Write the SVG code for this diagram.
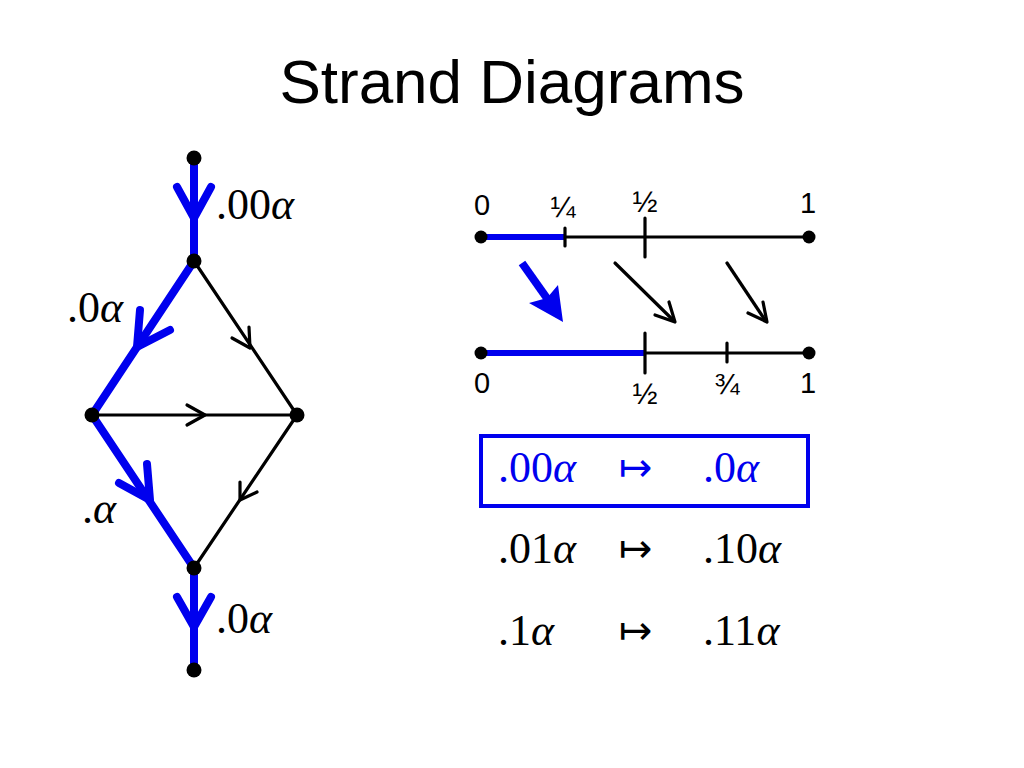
<svg xmlns="http://www.w3.org/2000/svg" width="1024" height="768" viewBox="0 0 1024 768">
<style>
.title{font-family:"Liberation Sans",Arial,sans-serif;font-size:62px;fill:#000}
.m{font-family:"Liberation Serif","DejaVu Serif",serif;font-size:44px;fill:#000}
.mb{font-family:"Liberation Serif","DejaVu Serif",serif;font-size:44px;fill:#0000ee}
.a{font-style:italic}
.to{font-family:"DejaVu Sans",sans-serif;font-size:40px}
.num{font-family:"Liberation Sans",Arial,sans-serif;font-size:29px;fill:#000;text-anchor:middle}
.frac{font-family:"Liberation Sans",Arial,sans-serif;font-size:30px;fill:#000;text-anchor:middle}
.blue{stroke:#0000ee;stroke-width:8;fill:none;stroke-linecap:round;stroke-linejoin:round}
.blk{stroke:#000;stroke-width:3.2;fill:none;stroke-linecap:round;stroke-linejoin:round}
.dot{fill:#000}
</style>
<rect width="1024" height="768" fill="#fff"/>
<text class="title" x="512" y="103" text-anchor="middle">Strand Diagrams</text>

<g id="connectors">
  <line class="blue" x1="194" y1="158" x2="194" y2="261"/>
  <polyline class="blue" points="177,187 194,218 211,187"/>
  <line class="blue" x1="194" y1="261" x2="92" y2="415"/>
  <polyline class="blue" points="140,310 137,347 170,330"/>
  <line class="blk" x1="194" y1="261" x2="297" y2="415"/>
  <polyline class="blk" points="232,338 250,348 249,327"/>
  <line class="blk" x1="92" y1="415" x2="297" y2="415"/>
  <polyline class="blk" points="187,405 205,415 187,425"/>
  <line class="blue" x1="92" y1="415" x2="194" y2="568"/>
  <polyline class="blue" points="147,464 150,500 119,483"/>
  <line class="blk" x1="297" y1="415" x2="194" y2="568"/>
  <polyline class="blk" points="240,482 240,500 257,492"/>
  <line class="blue" x1="194" y1="568" x2="194" y2="670"/>
  <polyline class="blue" points="177,597 194,627 211,597"/>
</g>

<g id="node-top"><circle class="dot" cx="194" cy="158" r="7.5"/></g>
<g id="node-upper"><circle class="dot" cx="194" cy="261" r="7.5"/></g>
<g id="node-left"><circle class="dot" cx="92" cy="415" r="7.5"/></g>
<g id="node-right"><circle class="dot" cx="297" cy="415" r="7.5"/></g>
<g id="node-lower"><circle class="dot" cx="194" cy="568" r="7.5"/></g>
<g id="node-bottom"><circle class="dot" cx="194" cy="670" r="7.5"/></g>

<g id="labels-left">
  <text class="m" x="216" y="219">.00<tspan class="a">α</tspan></text>
  <text class="m" x="67" y="322">.0<tspan class="a">α</tspan></text>
  <text class="m" x="82" y="523">.<tspan class="a">α</tspan></text>
  <text class="m" x="216" y="633">.0<tspan class="a">α</tspan></text>
</g>

<g id="numberline-top">
  <line class="blk" x1="481" y1="237" x2="809" y2="237"/>
  <line x1="481" y1="237" x2="565" y2="237" stroke="#0000ee" stroke-width="6"/>
  <line class="blk" x1="565" y1="228" x2="565" y2="246" stroke-linecap="butt"/>
  <line class="blk" x1="645" y1="218" x2="645" y2="257" stroke-linecap="butt"/>
  <circle class="dot" cx="481" cy="237" r="6.5"/>
  <circle class="dot" cx="809" cy="237" r="6.5"/>
  <text class="num" x="482" y="215">0</text>
  <text class="frac" x="563" y="217">¼</text>
  <text class="frac" x="645" y="212">½</text>
  <text class="num" x="808" y="213">1</text>
</g>

<g id="numberline-bottom">
  <line class="blk" x1="481" y1="353" x2="809" y2="353"/>
  <line x1="481" y1="353" x2="645" y2="353" stroke="#0000ee" stroke-width="6"/>
  <line class="blk" x1="645" y1="333" x2="645" y2="373" stroke-linecap="butt"/>
  <line class="blk" x1="727" y1="343" x2="727" y2="362" stroke-linecap="butt"/>
  <circle class="dot" cx="481" cy="353" r="6.5"/>
  <circle class="dot" cx="809" cy="353" r="6.5"/>
  <text class="num" x="482" y="393">0</text>
  <text class="frac" x="645" y="404">½</text>
  <text class="frac" x="727" y="394">¾</text>
  <text class="num" x="808" y="393">1</text>
</g>

<g id="map-arrows">
  <line x1="522" y1="263" x2="551" y2="304" stroke="#0000ee" stroke-width="8" stroke-linecap="butt"/>
  <polygon points="563,322 529,303 547,298 558,285" fill="#0000ee"/>
  <line class="blk" x1="615" y1="263" x2="673" y2="320"/>
  <polyline class="blk" points="655,315 675,322 669,302"/>
  <line class="blk" x1="727" y1="263" x2="765" y2="320"/>
  <polyline class="blk" points="748,313 767,322 763,302"/>
</g>

<g id="table">
  <rect x="481" y="436" width="327" height="70" fill="none" stroke="#0000ee" stroke-width="4"/>
  <text class="mb" x="498" y="482">.00<tspan class="a">α</tspan></text>
  <text class="mb to" x="619" y="481">↦</text>
  <text class="mb" x="703" y="482">.0<tspan class="a">α</tspan></text>
  <text class="m" x="498" y="563">.01<tspan class="a">α</tspan></text>
  <text class="m to" x="619" y="562">↦</text>
  <text class="m" x="703" y="563">.10<tspan class="a">α</tspan></text>
  <text class="m" x="498" y="645">.1<tspan class="a">α</tspan></text>
  <text class="m to" x="619" y="644">↦</text>
  <text class="m" x="703" y="645">.11<tspan class="a">α</tspan></text>
</g>
</svg>
